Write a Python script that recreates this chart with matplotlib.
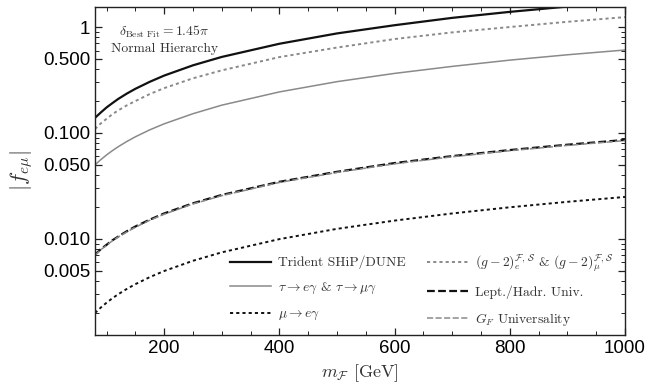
import matplotlib
matplotlib.use("Agg")
import matplotlib.pyplot as plt
from matplotlib.ticker import FixedLocator, NullFormatter, MultipleLocator, LogLocator

plt.rcParams['mathtext.fontset'] = 'cm'
plt.rcParams['font.family'] = ['cmr10', 'DejaVu Serif']
plt.rcParams['axes.unicode_minus'] = False
plt.rcParams['axes.formatter.use_mathtext'] = True

masses = [80, 90, 100, 110, 120, 135, 150, 175, 200, 250, 300, 400, 500, 600, 700, 800, 900, 1000]
trident = [0.139, 0.156, 0.174, 0.191, 0.209, 0.235, 0.261, 0.304, 0.348, 0.435, 0.522, 0.695, 0.870, 1.04, 1.22, 1.39, 1.56, 1.74]
gm2 = [0.109, 0.123, 0.136, 0.150, 0.163, 0.182, 0.200, 0.233, 0.265, 0.328, 0.390, 0.520, 0.640, 0.770, 0.890, 1.00, 1.12, 1.24]
tau = [0.050, 0.056, 0.062, 0.068, 0.074, 0.083, 0.092, 0.107, 0.122, 0.152, 0.183, 0.244, 0.305, 0.365, 0.425, 0.487, 0.547, 0.607]
lept = [0.0071, 0.0080, 0.0088, 0.0097, 0.0105, 0.0118, 0.0131, 0.0152, 0.0174, 0.0217, 0.0260, 0.0346, 0.0430, 0.0520, 0.0605, 0.0690, 0.0775, 0.0860]
gf = [0.0070, 0.0079, 0.0087, 0.0096, 0.0104, 0.0116, 0.0129, 0.0150, 0.0171, 0.0214, 0.0256, 0.0341, 0.0424, 0.0512, 0.0596, 0.0680, 0.0763, 0.0847]
mueg = [0.0020, 0.00225, 0.0025, 0.00275, 0.0030, 0.00337, 0.00374, 0.00436, 0.00498, 0.00622, 0.00747, 0.00996, 0.01245, 0.0149, 0.0174, 0.0199, 0.0224, 0.0249]

ytick_vals = [0.005, 0.010, 0.050, 0.100, 0.500, 1]
ytick_labels = ['0.005', '0.010', '0.050', '0.100', '0.500', '1']
xtick_vals = [200, 400, 600, 800, 1000]

fig = plt.figure(figsize=(6.72, 3.92), dpi=100)
ax = fig.add_axes([95/672, 1-335/392, 530/672, 328/392])

ax.plot(masses, trident, color='#111111', lw=1.6, ls='-', label='Trident SHiP/DUNE')
ax.plot(masses, tau, color='#8a8a8a', lw=1.1, ls='-', label=r'$\tau\to e\gamma$ & $\tau\to\mu\gamma$')
ax.plot(masses, mueg, color='#111111', lw=1.4, ls=(0, (1.6, 1.6)), label=r'$\mu\to e\gamma$')
ax.plot(masses, gm2, color='#8a8a8a', lw=1.4, ls=(0, (1.6, 1.6)),
        label=r'$(g-2)_e^{\mathcal{F},\,\mathcal{S}}$ & $(g-2)_\mu^{\mathcal{F},\,\mathcal{S}}$')
ax.plot(masses, lept, color='#111111', lw=1.6, ls=(0, (3.5, 1.5)), label='Lept./Hadr. Univ.')
ax.plot(masses, gf, color='#8a8a8a', lw=1.1, ls=(0, (4, 1.6)), label=r'$G_F$ Universality')

ax.set_yscale('log')
ax.set_xlim(80, 1000)
ax.set_ylim(0.00124, 1.545)

ax.yaxis.set_major_locator(FixedLocator(ytick_vals))
ax.set_yticklabels(ytick_labels, family='Liberation Sans', fontsize=13.5)
ax.yaxis.set_minor_locator(LogLocator(base=10, subs=[1, 2, 3, 4, 6, 7, 8, 9]))
ax.yaxis.set_minor_formatter(NullFormatter())
ax.set_xticks(xtick_vals)
ax.set_xticklabels([str(v) for v in xtick_vals], family='Liberation Sans', fontsize=13.5)
ax.xaxis.set_minor_locator(MultipleLocator(50))

ax.tick_params(which='both', direction='in', top=True, right=True, color='#222222')
ax.tick_params(which='major', length=5, width=0.9)
ax.tick_params(which='minor', length=3, width=0.7)
for s in ax.spines.values():
    s.set_linewidth(1.0)
    s.set_color('#222222')

ax.set_xlabel(r'$m_{\mathcal{F}}$ [GeV]', fontsize=13, color='#333333')
ax.set_ylabel(r'$|f_{e\mu}|$', fontsize=16, color='#333333', labelpad=6)

ax.text(0.131, 0.924, r'$\delta_{\mathrm{Best\ Fit}} = 1.45\pi$', transform=ax.transAxes,
        ha='center', va='center', fontsize=9.8, color='#333333')
ax.text(0.131, 0.873, 'Normal Hierarchy', transform=ax.transAxes,
        ha='center', va='center', fontsize=9.8, color='#333333')

leg = ax.legend(ncol=2, frameon=False, fontsize=9.8, handlelength=3.0,
                loc='lower right', bbox_to_anchor=(0.993, 0.0), borderaxespad=0.15,
                labelspacing=0.85, columnspacing=1.6, handletextpad=0.5)
for t in leg.get_texts():
    t.set_color('#333333')

fig.savefig('out.png', dpi=100)
